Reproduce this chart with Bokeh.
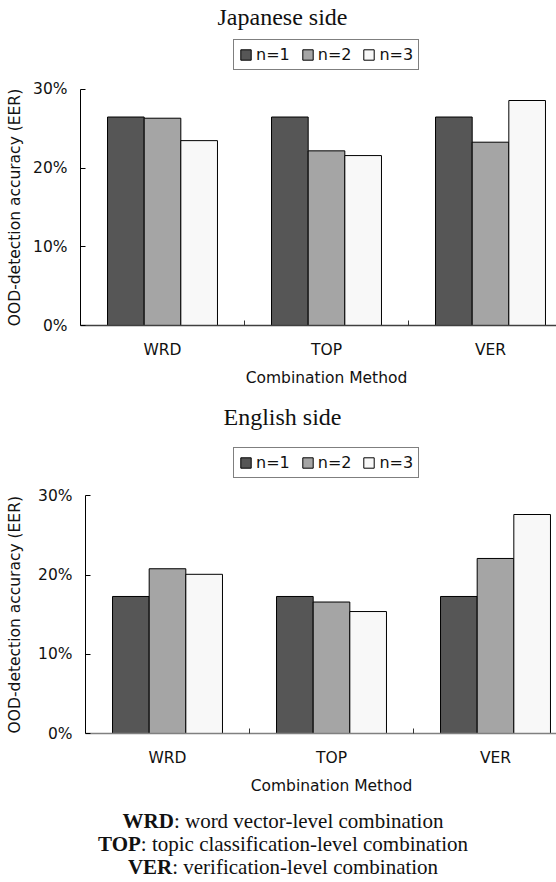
import math
from bokeh.plotting import figure
from bokeh.models import (Range1d, FixedTicker, PrintfTickFormatter, Legend,
                          LegendItem, Label, Div)
from bokeh.layouts import column
from bokeh.embed import file_html
from bokeh.resources import INLINE

categories = ["WRD", "TOP", "VER"]
series_names = ["n=1", "n=2", "n=3"]
japanese_n1 = [26.5, 26.5, 26.5]
japanese_n2 = [26.35, 22.2, 23.3]
japanese_n3 = [23.5, 21.6, 28.6]
english_n1 = [17.3, 17.3, 17.3]
english_n2 = [20.8, 16.6, 22.1]
english_n3 = [20.1, 15.4, 27.65]
y_ticks = [0, 10, 20, 30]
fill_colors = ["#565656", "#a5a5a5", "#f8f8f8"]

SANS = "DejaVu Sans"
SERIF = "Liberation Serif"
W = 556
PX_PER_CAT = 164.0


def make_chart(title, series, height, axis_x, axis_y, y_per_10, title_top,
               legend_bottom_top, xlabel_top, xaxis_color):
    # whole canvas is the plot frame; axes are pinned at data 0
    x_start = -axis_x / PX_PER_CAT
    x_end = (W - axis_x) / PX_PER_CAT
    y_end = axis_y / y_per_10 * 10.0
    y_start = -(height - axis_y) / y_per_10 * 10.0
    p = figure(width=W, height=height, x_range=Range1d(x_start, x_end),
               y_range=Range1d(y_start, y_end), output_backend="svg",
               toolbar_location=None, tools="",
               min_border_left=0, min_border_right=0,
               min_border_top=0, min_border_bottom=0)
    p.outline_line_color = None
    p.xgrid.visible = False
    p.ygrid.visible = False
    p.background_fill_color = "white"
    p.border_fill_color = "white"

    bar_w = 0.2235
    offsets = [-bar_w, 0.0, bar_w]
    items = []
    for vals, name, col, off in zip(series, series_names, fill_colors, offsets):
        xs = [i + 0.5 + off for i in range(len(categories))]
        r = p.vbar(x=xs, top=vals, bottom=0, width=bar_w, fill_color=col,
                   line_color="black", line_width=1)
        items.append(LegendItem(label=name, renderers=[r]))

    legend = Legend(items=items, location=(233, height - legend_bottom_top),
                    orientation="horizontal",
                    border_line_color="black", border_line_width=1,
                    padding=5, spacing=11, label_standoff=4, margin=0,
                    glyph_width=13, glyph_height=13, label_height=18,
                    label_text_font=SANS, label_text_font_size="16px",
                    label_text_color="#111111", background_fill_color="white",
                    background_fill_alpha=1.0)
    p.add_layout(legend, "center")

    xa = p.xaxis[0]
    xa.fixed_location = 0
    xa.bounds = (0, len(categories))
    xa.ticker = FixedTicker(ticks=[i + 0.5 for i in range(len(categories))],
                            minor_ticks=[1, 2])
    xa.major_label_overrides = {i + 0.5: c for i, c in enumerate(categories)}
    xa.major_tick_in = 0
    xa.major_tick_out = 0
    xa.minor_tick_in = 5
    xa.minor_tick_out = 0
    xa.minor_tick_line_color = "#333333"
    xa.axis_line_color = xaxis_color
    xa.axis_line_width = 1.5
    xa.major_label_standoff = 15
    xa.major_label_text_font = SANS
    xa.major_label_text_font_size = "15.5px"
    xa.major_label_text_color = "#111111"

    ya = p.yaxis[0]
    ya.fixed_location = 0
    ya.bounds = (0, 30)
    ya.ticker = FixedTicker(ticks=y_ticks, minor_ticks=[])
    ya.formatter = PrintfTickFormatter(format="%d%%")
    ya.major_tick_in = 5
    ya.major_tick_out = 0
    ya.minor_tick_in = 0
    ya.minor_tick_out = 0
    ya.axis_line_color = "black"
    ya.major_tick_line_color = "black"
    ya.major_label_standoff = 13
    ya.major_label_text_font = SANS
    ya.major_label_text_font_size = "15.5px"
    ya.major_label_text_color = "#111111"

    p.add_layout(Label(x=len(categories) / 2, x_units="data",
                       y=height - xlabel_top, y_units="screen",
                       text="Combination Method",
                       text_align="center", text_baseline="middle",
                       text_font=SANS, text_font_size="15.5px",
                       text_color="#111111"))
    p.add_layout(Label(x=14, x_units="screen", y=15, y_units="data",
                       text="OOD-detection accuracy (EER)", angle=math.pi / 2,
                       text_align="center", text_baseline="middle",
                       text_font=SANS, text_font_size="15.5px",
                       text_color="#111111"))
    p.add_layout(Label(x=282, x_units="screen", y=height - title_top,
                       y_units="screen",
                       text=title, text_align="center", text_baseline="middle",
                       text_font=SERIF, text_font_size="24px",
                       text_color="#111111"))
    return p


p1 = make_chart("Japanese side", [japanese_n1, japanese_n2, japanese_n3],
                height=400, axis_x=80, axis_y=325, y_per_10=78.67,
                title_top=16, legend_bottom_top=70, xlabel_top=377,
                xaxis_color="#404040")
p2 = make_chart("English side", [english_n1, english_n2, english_n3],
                height=405, axis_x=85, axis_y=333, y_per_10=79.2,
                title_top=16, legend_bottom_top=78, xlabel_top=385,
                xaxis_color="#808080")

footer_html = (
    '<div style="font-family: \'Liberation Serif\', serif; font-size: 21px; '
    'line-height: 23px; text-align: center; width: 546px; padding-left: 10px; '
    'margin: 0; color: #111111;">'
    '<b>WRD</b>: word vector-level combination<br>'
    '<b>TOP</b>: topic classification-level combination<br>'
    '<b>VER</b>: verification-level combination</div>'
)
footer = Div(text=footer_html, width=W, height=77)

layout = column(p1, p2, footer, spacing=0)
open("out.html", "w").write(file_html(layout, INLINE))
